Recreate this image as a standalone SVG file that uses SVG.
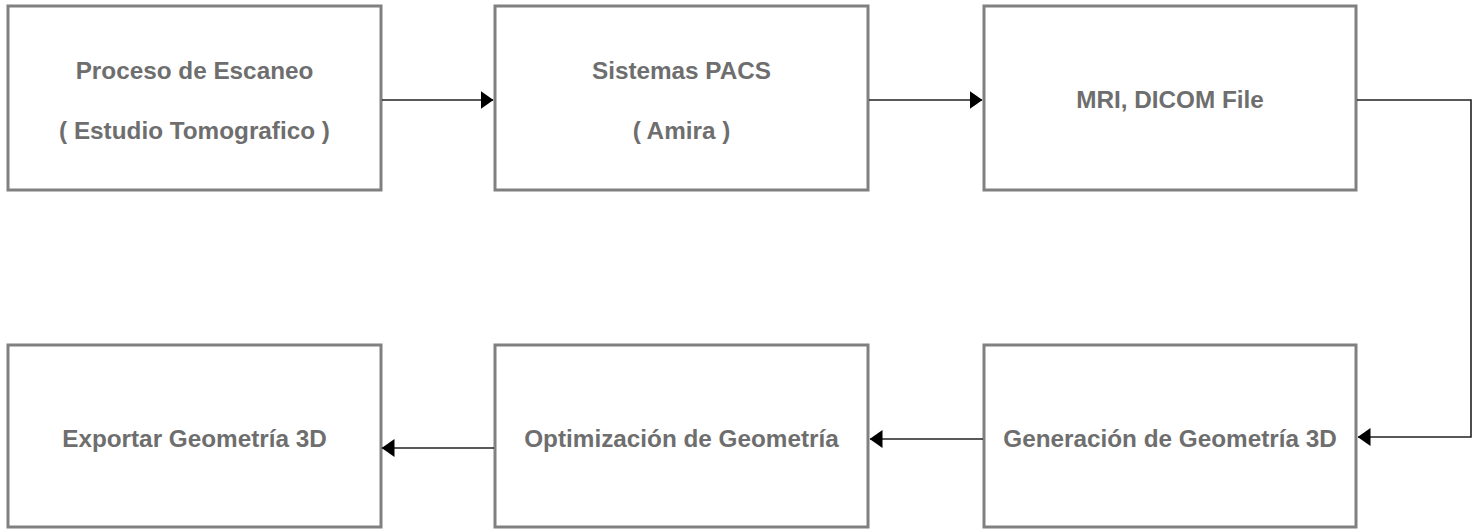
<svg xmlns="http://www.w3.org/2000/svg" width="1478" height="529" viewBox="0 0 1478 529">
<defs>
<style>
.box{fill:#fff;stroke:#808080;stroke-width:3}
.t{font-family:"Liberation Sans",Arial,sans-serif;font-weight:bold;font-size:24.3px;fill:#6e6e6e;text-anchor:middle}
.c{fill:none;stroke:#222;stroke-width:1.6}
</style>
<marker id="ah" viewBox="0 0 13 18" refX="12.5" refY="9" markerWidth="13" markerHeight="18" markerUnits="userSpaceOnUse" orient="auto">
<path d="M0,0 L13,9 L0,18 Z" fill="#000"/>
</marker>
</defs>
<rect width="1478" height="529" fill="#fff"/>
<g id="n1"><rect class="box" x="8" y="6" width="373" height="184"/><text class="t" x="194.5" y="79">Proceso de Escaneo</text><text class="t" x="194.5" y="139">( Estudio Tomografico )</text></g>
<g id="n2"><rect class="box" x="495" y="6" width="373" height="184"/><text class="t" x="681.5" y="79">Sistemas PACS</text><text class="t" x="681.5" y="139">( Amira )</text></g>
<g id="n3"><rect class="box" x="984" y="6" width="372" height="184"/><text class="t" x="1170" y="108">MRI, DICOM File</text></g>
<g id="n4"><rect class="box" x="984" y="345" width="372" height="182"/><text class="t" x="1170" y="447">Generación de Geometría 3D</text></g>
<g id="n5"><rect class="box" x="495" y="345" width="373" height="182"/><text class="t" x="681.5" y="447">Optimización de Geometría</text></g>
<g id="n6"><rect class="box" x="8" y="345" width="373" height="182"/><text class="t" x="194.5" y="447">Exportar Geometría 3D</text></g>
<g id="connectors">
<path class="c" d="M382,100 H493" marker-end="url(#ah)"/>
<path class="c" d="M869,100 H982" marker-end="url(#ah)"/>
<path class="c" d="M1357,100 H1471 V437 H1358" marker-end="url(#ah)"/>
<path class="c" d="M983,439 H870" marker-end="url(#ah)"/>
<path class="c" d="M494,448 H382" marker-end="url(#ah)"/>
</g>
</svg>
